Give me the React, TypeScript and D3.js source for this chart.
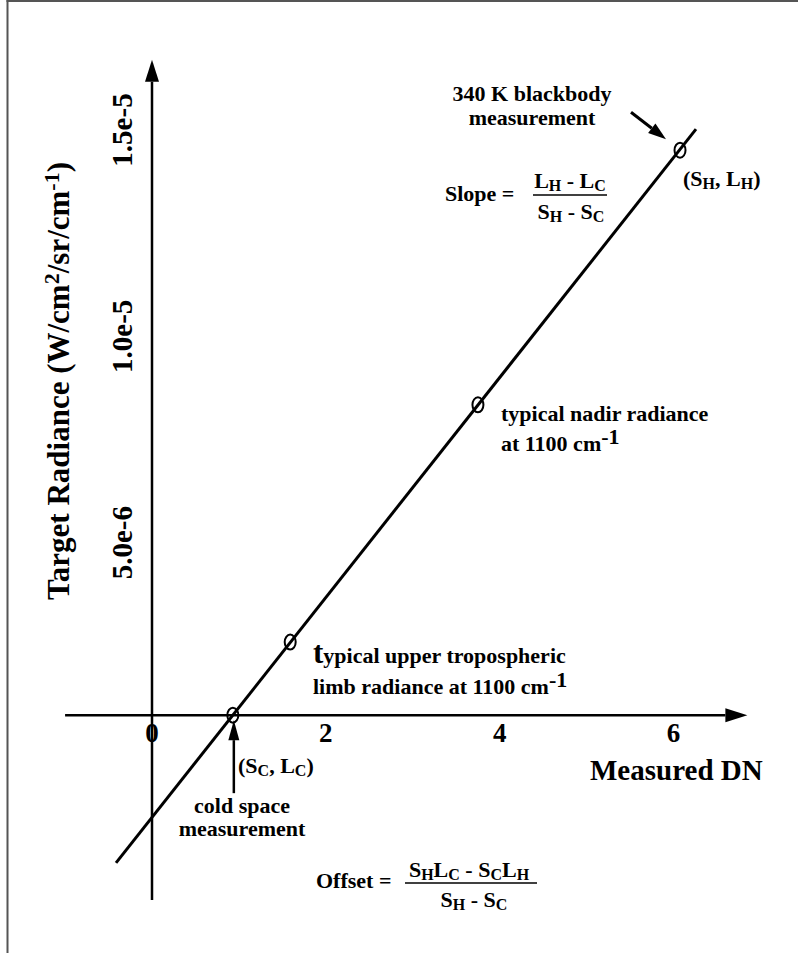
import React from "react";
import * as d3 from "d3";

// ---- data ----
const xTickValues = [0, 2, 4, 6];
const xTickLabels = ["0", "2", "4", "6"];
const yTickValues = [5e-6, 1e-5, 1.5e-5];
const yTickLabels = ["5.0e-6", "1.0e-5", "1.5e-5"];
const pointNames = ["cold space", "upper tropospheric limb", "nadir", "340 K blackbody"];
const pointDN = [0.93, 1.59, 3.75, 6.075];
const pointRadiance = [8.2e-7, 2.59e-6, 8.34e-6, 1.451e-5];
const fitDN = [-0.414, 6.259];
const fitRadiance = [-2.76e-6, 1.502e-5];
const xAxisExtent = [-1.0, 6.85];
const yAxisExtent = [-3.66e-6, 1.67e-5];

const W = 798;
const H = 953;
const FONT = "'Liberation Serif', 'Times New Roman', Times, serif";

const x = d3.scaleLinear().domain([0, 6]).range([152, 673.5]);
const y = d3.scaleLinear().domain([0, 1.5e-5]).range([749, 130]);

function arrowHead(x1: number, y1: number, x2: number, y2: number, len: number, halfW: number) {
  const dx = x2 - x1, dy = y2 - y1;
  const L = Math.hypot(dx, dy);
  const ux = dx / L, uy = dy / L;
  const nx = -uy, ny = ux;
  const bx = x2 - ux * len, by = y2 - uy * len;
  return {
    base: [bx, by],
    points: `${x2},${y2} ${bx + nx * halfW},${by + ny * halfW} ${bx - nx * halfW},${by - ny * halfW}`,
  };
}

// segments: plain strings or ["sub", text] / ["sup", text]
type Seg = string | [string, string];
function rich(segs: Seg[], subSize = 16, supSize = 20, shift = 3, supShift = 9) {
  let offset = 0;
  return segs.map((s, i) => {
    let target = 0;
    let text = "";
    let size: number | undefined;
    if (typeof s === "string") {
      text = s;
    } else if (s[0] === "sub") {
      target = shift; text = s[1]; size = subSize;
    } else {
      target = -supShift; text = s[1]; size = supSize;
    }
    const dy = target - offset;
    offset = target;
    return (
      <tspan key={i} dy={dy} fontSize={size}>{text}</tspan>
    );
  });
}

export default function App() {
  const axisY = y(pointRadiance[0]);
  const axisX = x(0);
  const xa0 = x(xAxisExtent[0]);
  const xa1 = x(xAxisExtent[1]);
  const ya0 = y(yAxisExtent[0]);
  const ya1 = y(yAxisExtent[1]);
  const xHead = arrowHead(xa0, axisY, xa1, axisY, 22, 7);
  const yHead = arrowHead(axisX, ya0, axisX, ya1, 22, 7);

  const fitLine = d3.line<number>()
    .x((_, i) => x(fitDN[i]))
    .y((_, i) => y(fitRadiance[i]));

  const pts = pointDN.map((d, i) => ({ name: pointNames[i], px: x(d), py: y(pointRadiance[i]) }));
  const cold = pts[0];
  const bb = pts[3];

  const coldTail = [cold.px + 1, cold.py + 78];
  const coldTip = [cold.px + 1, cold.py + 5];
  const coldHead = arrowHead(coldTail[0], coldTail[1], coldTip[0], coldTip[1], 20, 5.5);

  const bbTail = [bb.px - 49, bb.py - 38];
  const bbTip = [bb.px - 14, bb.py - 11];
  const bbHead = arrowHead(bbTail[0], bbTail[1], bbTip[0], bbTip[1], 18, 6);

  const txt = { fontFamily: FONT, fontWeight: 700, fill: "#000" } as const;
  const FS = 22;

  return (
    <svg
      width={W}
      height={H}
      viewBox={`0 0 ${W} ${H}`}
      style={{ position: "absolute", left: 0, top: 0, background: "#fff" }}
    >
      <rect x={0} y={0} width={W} height={H} fill="#fff" />
      {/* frame (top and left only) */}
      <line x1={6.5} y1={1} x2={W} y2={1} stroke="#555" strokeWidth={2} />
      <line x1={7.5} y1={0} x2={7.5} y2={H} stroke="#555" strokeWidth={2} />

      {/* axes */}
      <line x1={xa0} y1={axisY} x2={xHead.base[0]} y2={axisY} stroke="#000" strokeWidth={2.5} />
      <polygon points={xHead.points} fill="#000" />
      <line x1={axisX} y1={ya0} x2={axisX} y2={yHead.base[1]} stroke="#000" strokeWidth={2.5} />
      <polygon points={yHead.points} fill="#000" />

      {/* x tick labels */}
      {xTickValues.map((v, i) => (
        <text key={i} x={x(v)} y={742} textAnchor="middle" fontSize={27} {...txt}>
          {xTickLabels[i]}
        </text>
      ))}
      {/* y tick labels */}
      {yTickValues.map((v, i) => (
        <text
          key={i}
          transform={`translate(132,${y(v)}) rotate(-90)`}
          textAnchor="middle"
          fontSize={29}
          {...txt}
        >
          {yTickLabels[i]}
        </text>
      ))}

      {/* axis titles */}
      <text x={590} y={780} fontSize={29} {...txt}>Measured DN</text>
      <text transform="translate(69,381) rotate(-90)" textAnchor="middle" fontSize={31} {...txt}>
        {rich(["Target Radiance (W/cm", ["sup", "2"], "/sr/cm", ["sup", "-1"], ")"], 16, 22, 3, 10)}
      </text>

      {/* calibration line */}
      <path d={fitLine(fitDN) || ""} stroke="#000" strokeWidth={3} fill="none" />

      {/* measurement points */}
      {pts.map((p, i) => (
        <ellipse key={i} cx={p.px} cy={p.py} rx={5.5} ry={7.5} fill="none" stroke="#000" strokeWidth={2} />
      ))}

      {/* cold space arrow */}
      <line x1={coldTail[0]} y1={coldTail[1]} x2={coldHead.base[0]} y2={coldHead.base[1]} stroke="#000" strokeWidth={2.5} />
      <polygon points={coldHead.points} fill="#000" />

      {/* blackbody arrow */}
      <line x1={bbTail[0]} y1={bbTail[1]} x2={bbHead.base[0]} y2={bbHead.base[1]} stroke="#000" strokeWidth={3} />
      <polygon points={bbHead.points} fill="#000" />

      {/* blackbody annotation */}
      <text x={532} y={101} textAnchor="middle" fontSize={FS} {...txt}>340 K blackbody</text>
      <text x={532} y={125} textAnchor="middle" fontSize={FS} {...txt}>measurement</text>
      <text x={683} y={186} fontSize={FS} {...txt}>
        {rich(["(S", ["sub", "H"], ", L", ["sub", "H"], ")"])}
      </text>

      {/* slope formula */}
      <text x={445} y={201} fontSize={FS} {...txt}>Slope =</text>
      <text x={570} y={188} textAnchor="middle" fontSize={FS} {...txt}>
        {rich(["L", ["sub", "H"], " - L", ["sub", "C"]])}
      </text>
      <line x1={533} y1={195} x2={607} y2={195} stroke="#000" strokeWidth={1.5} />
      <text x={571} y={219} textAnchor="middle" fontSize={FS} {...txt}>
        {rich(["S", ["sub", "H"], " - S", ["sub", "C"]])}
      </text>

      {/* nadir annotation */}
      <text x={501} y={421} fontSize={FS} {...txt}>typical nadir radiance</text>
      <text x={501} y={451} fontSize={FS} {...txt}>
        {rich(["at 1100 cm", ["sup", "-1"]], 16, 22, 3, 7)}
      </text>

      {/* upper tropospheric annotation */}
      <text x={313} y={663} fontSize={FS} {...txt}>
        <tspan fontSize={31}>t</tspan>ypical upper tropospheric
      </text>
      <text x={313} y={694} fontSize={FS} {...txt}>
        {rich(["limb radiance at 1100 cm", ["sup", "-1"]], 16, 22, 3, 7)}
      </text>

      {/* cold space annotation */}
      <text x={238} y={773} fontSize={FS} {...txt}>
        {rich(["(S", ["sub", "C"], ", L", ["sub", "C"], ")"])}
      </text>
      <text x={242} y={813} textAnchor="middle" fontSize={FS} {...txt}>cold space</text>
      <text x={242} y={836} textAnchor="middle" fontSize={FS} {...txt}>measurement</text>

      {/* offset formula */}
      <text x={316} y={888} fontSize={FS} {...txt}>Offset =</text>
      <text x={469} y={877} textAnchor="middle" fontSize={FS} {...txt}>
        {rich(["S", ["sub", "H"], "L", ["sub", "C"], " - S", ["sub", "C"], "L", ["sub", "H"]])}
      </text>
      <line x1={405} y1={883} x2={537} y2={883} stroke="#000" strokeWidth={1.5} />
      <text x={474} y={907} textAnchor="middle" fontSize={FS} {...txt}>
        {rich(["S", ["sub", "H"], " - S", ["sub", "C"]])}
      </text>
    </svg>
  );
}
